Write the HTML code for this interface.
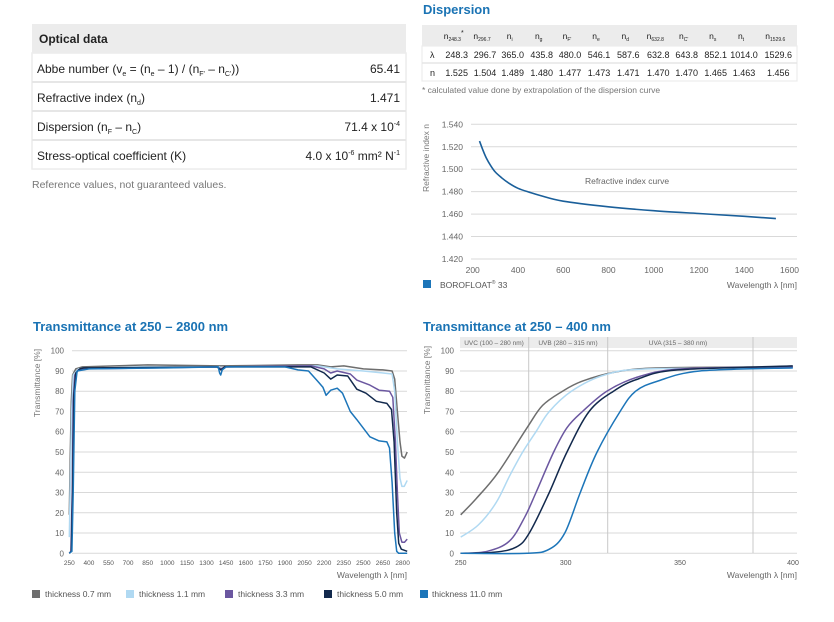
<!DOCTYPE html>
<html><head><meta charset="utf-8"><style>
body{margin:0;background:#fff;width:834px;height:622px;overflow:hidden;font-family:"Liberation Sans",sans-serif;}
svg{display:block}
text{font-family:"Liberation Sans",sans-serif}
</style></head><body>
<svg id="s" width="834" height="622" xmlns="http://www.w3.org/2000/svg">
<rect x="32" y="24" width="374" height="29" fill="#ececec"/>
<rect x="32" y="53" width="374" height="116" fill="#fff" stroke="#ececec" stroke-width="1.5"/>
<line x1="32" y1="82" x2="406" y2="82" stroke="#e6e6e6" stroke-width="2"/>
<line x1="32" y1="111" x2="406" y2="111" stroke="#e6e6e6" stroke-width="2"/>
<line x1="32" y1="140" x2="406" y2="140" stroke="#e6e6e6" stroke-width="2"/>
<g font-size="12" fill="#222">
<text x="39" y="43" font-weight="bold">Optical data</text>
<text x="37" y="73">Abbe number (v<tspan font-size="7" dy="3">e</tspan><tspan dy="-3"> = (n</tspan><tspan font-size="7" dy="3">e</tspan><tspan dy="-3"> – 1) / (n</tspan><tspan font-size="7" dy="3">F'</tspan><tspan dy="-3"> – n</tspan><tspan font-size="7" dy="3">C'</tspan><tspan dy="-3">))</tspan></text>
<text x="400" y="73" text-anchor="end">65.41</text>
<text x="37" y="102">Refractive index (n<tspan font-size="7" dy="3">d</tspan><tspan dy="-3">)</tspan></text>
<text x="400" y="102" text-anchor="end">1.471</text>
<text x="37" y="131">Dispersion (n<tspan font-size="7" dy="3">F</tspan><tspan dy="-3"> – n</tspan><tspan font-size="7" dy="3">C</tspan><tspan dy="-3">)</tspan></text>
<text x="400" y="131" text-anchor="end">71.4 x 10<tspan font-size="7" dy="-5">-4</tspan></text>
<text x="37" y="160">Stress-optical coefficient (K)</text>
<text x="400" y="160" text-anchor="end">4.0 x 10<tspan font-size="7" dy="-5">-6</tspan><tspan dy="5"> mm² N</tspan><tspan font-size="7" dy="-5">-1</tspan></text>
</g>
<text x="32" y="188" font-size="10.5" fill="#777">Reference values, not guaranteed values.</text>

<text x="423" y="14" font-size="13" font-weight="bold" fill="#1a73b4">Dispersion</text>
<rect x="422" y="25" width="375" height="21" fill="#ececec"/>
<rect x="422" y="46" width="375" height="35" fill="#fff" stroke="#ececec" stroke-width="1.2"/>
<line x1="422" y1="63" x2="797" y2="63" stroke="#e6e6e6" stroke-width="1.5"/>
<g id="dt" font-size="9" fill="#222"></g>
<text x="422" y="93" font-size="8.5" fill="#777">* calculated value done by extrapolation of the dispersion curve</text>
<g id="dc"></g>
<rect x="423" y="280" width="8" height="8" fill="#1c75b9"/>
<text x="440" y="288" font-size="8.5" fill="#555">BOROFLOAT<tspan font-size="5" dy="-4">®</tspan><tspan dy="4"> 33</tspan></text>
<text x="797" y="288" font-size="8.5" fill="#666" text-anchor="end">Wavelength λ [nm]</text>

<text x="33" y="331" font-size="13" font-weight="bold" fill="#1a73b4">Transmittance at 250 – 2800 nm</text>
<text x="423" y="331" font-size="13" font-weight="bold" fill="#1a73b4">Transmittance at 250 – 400 nm</text>
<g id="lc"></g>
<g id="rc"></g>
<g font-size="8.5" fill="#555">
<rect x="32" y="590" width="8" height="8" fill="#6e6e6e"/><text x="45" y="597">thickness 0.7 mm</text>
<rect x="126" y="590" width="8" height="8" fill="#b0d9f2"/><text x="139" y="597">thickness 1.1 mm</text>
<rect x="225" y="590" width="8" height="8" fill="#6b57a0"/><text x="238" y="597">thickness 3.3 mm</text>
<rect x="324" y="590" width="8" height="8" fill="#12294d"/><text x="337" y="597">thickness 5.0 mm</text>
<rect x="420" y="590" width="8" height="8" fill="#1c75b9"/><text x="432" y="597">thickness 11.0 mm</text>
</g>
</svg>
<script>
var NS="http://www.w3.org/2000/svg";
function el(p,t,a,txt){var e=document.createElementNS(NS,t);for(var k in a)e.setAttribute(k,a[k]);if(txt!=null)e.textContent=txt;p.appendChild(e);return e;}
function cr(pts){var d="M"+pts[0][0].toFixed(1)+","+pts[0][1].toFixed(1);for(var i=0;i<pts.length-1;i++){var p0=pts[i-1]||pts[i],p1=pts[i],p2=pts[i+1],p3=pts[i+2]||p2;var c1=[p1[0]+(p2[0]-p0[0])/6,p1[1]+(p2[1]-p0[1])/6],c2=[p2[0]-(p3[0]-p1[0])/6,p2[1]-(p3[1]-p1[1])/6];d+="C"+c1[0].toFixed(1)+","+c1[1].toFixed(1)+" "+c2[0].toFixed(1)+","+c2[1].toFixed(1)+" "+p2[0].toFixed(1)+","+p2[1].toFixed(1);}return d;}
function pl(pts){return "M"+pts.map(function(p){return p[0].toFixed(1)+","+p[1].toFixed(1)}).join("L");}
var dt=document.getElementById("dt");
var cx=[456.7,485,512.7,541.7,570,599,628.3,658.3,686.7,715.7,744,778.3];
var hd=["248.3","296.7","i","g","F'","e","d","632.8","C'","s","t","1529.6"];
var lam=["248.3","296.7","365.0","435.8","480.0","546.1","587.6","632.8","643.8","852.1","1014.0","1529.6"];
var nn=["1.525","1.504","1.489","1.480","1.477","1.473","1.471","1.470","1.470","1.465","1.463","1.456"];
for(var i=0;i<12;i++){var t=el(dt,"text",{x:cx[i]-3,y:39,"text-anchor":"middle","font-size":"8.5"});t.textContent="n";el(t,"tspan",{"font-size":"5",dy:"2"},hd[i]);if(i==0)el(t,"tspan",{"font-size":"7",dy:"-6"},"*");
el(dt,"text",{x:cx[i],y:58,"text-anchor":"middle"},lam[i]);el(dt,"text",{x:cx[i],y:76,"text-anchor":"middle"},nn[i]);}
el(dt,"text",{x:430,y:58},"λ");el(dt,"text",{x:430,y:76},"n");
var dc=document.getElementById("dc");
function DX(w){return 472.7+(w-200)*0.2263}function DY(n){return 124.3+(1.540-n)/0.02*22.45}
for(var k=0;k<7;k++){var v=1.54-k*0.02;var y=DY(v);el(dc,"line",{x1:471,x2:797,y1:y,y2:y,stroke:"#d9d9d9","stroke-width":1});el(dc,"text",{x:463,y:y+3,"text-anchor":"end","font-size":"8.5",fill:"#666"},v.toFixed(3));}
for(var w=200;w<=1600;w+=200)el(dc,"text",{x:DX(w),y:273,"text-anchor":"middle","font-size":"8.5",fill:"#666"},w);
el(dc,"text",{x:429,y:158,"font-size":"8.5",fill:"#777",transform:"rotate(-90 429 158)","text-anchor":"middle"},"Refractive index n");
el(dc,"text",{x:627,y:184,"text-anchor":"middle","font-size":"8.5",fill:"#666"},"Refractive index curve");
var dp=[[230,1.525],[245,1.517],[260,1.510],[280,1.503],[300,1.4975],[330,1.492],[360,1.4875],[400,1.483],[450,1.4795],[500,1.4765],[600,1.4715],[800,1.4665],[1000,1.463],[1200,1.4605],[1400,1.458],[1540,1.456]];
el(dc,"path",{d:cr(dp.map(function(p){return[DX(p[0]),DY(p[1])]})),fill:"none",stroke:"#1a5f9a","stroke-width":1.6});
var cols=["#6e6e6e","#b0d9f2","#6b57a0","#12294d","#1c75b9"];
var lc=document.getElementById("lc");
function LX(w){return 69.3+(w-250)*0.1307}function LY(t){return 553.3-t*2.026}
for(var k=0;k<=10;k++){var y=LY(k*10);el(lc,"line",{x1:72,x2:407,y1:y,y2:y,stroke:"#d9d9d9"});el(lc,"text",{x:64,y:y+3,"text-anchor":"end","font-size":"8",fill:"#666"},k*10);}
for(var w=250;w<=2800;w+=150)el(lc,"text",{x:LX(w),y:565,"text-anchor":"middle","font-size":"6.5",fill:"#555"},w);
el(lc,"text",{x:407,y:578,"text-anchor":"end","font-size":"8.5",fill:"#666"},"Wavelength λ [nm]");
el(lc,"text",{x:40,y:383,"font-size":"8.5",fill:"#777",transform:"rotate(-90 40 383)","text-anchor":"middle"},"Transmittance [%]");
var L=[
[[250,19],[258,50],[265,75],[275,88],[300,91],[350,92],[600,92.5],[850,93],[1400,92.5],[2000,93],[2150,93],[2250,92],[2350,92.5],[2500,91],[2650,90.5],[2720,90],[2740,86],[2760,70],[2780,55],[2795,48],[2815,47],[2835,50]],
[[250,8],[258,35],[268,70],[280,88],[320,91],[800,92],[1400,92],[1420,91],[1450,92],[2150,92.5],[2300,91],[2500,90],[2650,89],[2720,88.5],[2740,80],[2760,55],[2780,37],[2795,33],[2812,33],[2835,36]],
[[250,0],[262,1],[272,30],[280,75],[292,88],[320,90.5],[350,91],[1380,92],[1410,91],[1440,92],[2100,92.5],[2200,91],[2250,89],[2300,90],[2400,88.5],[2450,85.5],[2550,83],[2620,80.5],[2700,80],[2725,77],[2745,55],[2760,30],[2775,10],[2795,5.5],[2815,5.5],[2835,7]],
[[250,0],[265,1],[275,30],[285,78],[300,89],[330,91],[360,91.5],[1380,92],[1410,90.5],[1440,92],[2100,92],[2200,89],[2250,86],[2300,88],[2380,87.5],[2450,81],[2520,79],[2600,75],[2680,74],[2715,71],[2735,55],[2755,20],[2770,5],[2790,2],[2835,1]],
[[250,0],[270,1],[280,30],[292,80],[310,90],[400,91],[1000,91.5],[1390,92],[1400,89],[1408,88],[1420,90.5],[1450,92],[1900,92],[2000,90.5],[2080,90],[2150,85],[2190,82],[2215,78],[2250,80.5],[2300,81.5],[2340,79],[2400,70],[2450,66],[2550,57.5],[2620,55.5],[2680,55],[2700,52],[2720,35],[2740,10],[2755,1],[2770,0],[2835,0]]];
L.forEach(function(c,i){el(lc,"path",{d:pl(c.map(function(p){return[LX(p[0]),LY(p[1])]})),fill:"none",stroke:cols[i],"stroke-width":1.5,"stroke-linejoin":"round"});});
var rc=document.getElementById("rc");
function RX(w){return 460.7+(w-250)*2.214}function RY(t){return 553.3-t*2.026}
el(rc,"rect",{x:460,y:337,width:337,height:11,fill:"#ececec"});
for(var k=0;k<=10;k++){var y=RY(k*10);el(rc,"line",{x1:460,x2:797,y1:y,y2:y,stroke:"#d9d9d9"});el(rc,"text",{x:454,y:y+3,"text-anchor":"end","font-size":"8",fill:"#666"},k*10);}
[528.7,607.7,753].forEach(function(x){el(rc,"line",{x1:x,x2:x,y1:337,y2:553,stroke:"#c8c8c8"});});
el(rc,"text",{x:494,y:345,"text-anchor":"middle","font-size":"6.5",fill:"#666"},"UVC (100 – 280 nm)");
el(rc,"text",{x:568,y:345,"text-anchor":"middle","font-size":"6.5",fill:"#666"},"UVB (280 – 315 nm)");
el(rc,"text",{x:678,y:345,"text-anchor":"middle","font-size":"6.5",fill:"#666"},"UVA (315 – 380 nm)");
[[250,460.7],[300,565.7],[350,680],[400,793]].forEach(function(a){el(rc,"text",{x:a[1],y:565,"text-anchor":"middle","font-size":"7",fill:"#555"},a[0]);});
el(rc,"text",{x:797,y:578,"text-anchor":"end","font-size":"8.5",fill:"#666"},"Wavelength λ [nm]");
el(rc,"text",{x:430,y:380,"font-size":"8.5",fill:"#777",transform:"rotate(-90 430 380)","text-anchor":"middle"},"Transmittance [%]");
var R=[
[[250,19],[257,27],[267,40],[280,62],[287,73],[296,80],[305,85],[320,89.5],[340,91.5],[400,92]],
[[250,8],[258,14],[266,25],[272,38],[278,50],[284,60],[290,70],[300,80],[315,88],[335,91],[400,91.5]],
[[250,0],[262,1],[272,6],[279,18],[284,30],[292,50],[298,62],[305,70],[316,80],[330,87],[350,91],[400,92]],
[[250,0],[265,0.5],[275,3],[281,10],[290,30],[298,50],[308,70],[319,80],[330,86],[348,90.5],[400,92.5]],
[[250,0],[280,0],[290,2],[297,10],[304,30],[311.6,50],[322,70],[329,80],[339,85],[358,90],[400,91.5]]];
R.forEach(function(c,i){el(rc,"path",{d:cr(c.map(function(p){return[RX(p[0]),RY(p[1])]})),fill:"none",stroke:cols[i],"stroke-width":1.5});});
</script>
</body></html>
